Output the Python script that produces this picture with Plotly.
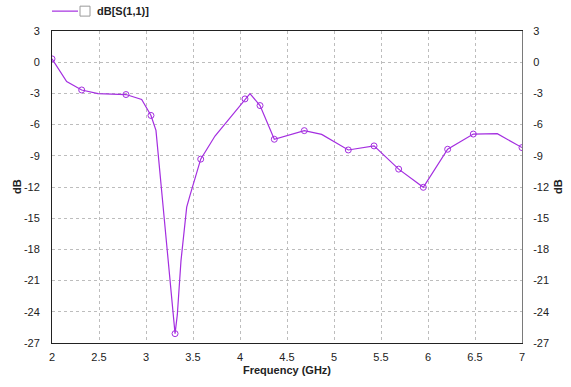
import plotly.graph_objects as go

# S11 sweep: frequency (GHz) and return loss (dB)
freq_ghz = [2.0, 2.156, 2.316, 2.49, 2.787, 2.954, 3.053, 3.106, 3.309, 3.333,
            3.372, 3.433, 3.468, 3.582, 3.734, 4.053, 4.106, 4.213, 4.365, 4.684,
            4.869, 5.152, 5.426, 5.688, 5.95, 6.209, 6.482, 6.737, 7.0]
s11_db = [0.32, -1.87, -2.67, -3.02, -3.11, -3.59, -5.12, -6.55, -26.1, -24.3,
          -19.1, -13.94, -12.8, -9.32, -7.1, -3.53, -3.02, -4.17, -7.41, -6.58,
          -6.94, -8.44, -8.05, -10.28, -12.03, -8.37, -6.91, -6.87, -8.21]
# which samples carry a marker symbol
marked = [1, 0, 1, 0, 1, 0, 1, 0, 1, 0,
          0, 0, 0, 1, 0, 1, 0, 1, 1, 1,
          0, 1, 1, 1, 1, 1, 1, 0, 1]

series_name = "dB[S(1,1)]"
x_ticks = [2, 2.5, 3, 3.5, 4, 4.5, 5, 5.5, 6, 6.5, 7]
y_ticks = [3, 0, -3, -6, -9, -12, -15, -18, -21, -24, -27]

COLOR = "#a42ee0"
FONT = "Liberation Sans, Arial, sans-serif"

fig = go.Figure()
fig.add_trace(go.Scatter(
    x=freq_ghz, y=s11_db, mode="lines",
    line=dict(color=COLOR, width=1.2),
    name=series_name, showlegend=False, hoverinfo="skip",
))
fig.add_trace(go.Scatter(
    x=[f for f, m in zip(freq_ghz, marked) if m],
    y=[v for v, m in zip(s11_db, marked) if m],
    mode="markers",
    marker=dict(symbol="circle-open", size=6, color=COLOR, line=dict(width=1, color=COLOR)),
    name=series_name, showlegend=False,
))
# invisible trace that drives the right-hand axis
fig.add_trace(go.Scatter(x=[freq_ghz[0]], y=[s11_db[0]], yaxis="y2",
                         mode="markers", marker=dict(opacity=0), showlegend=False,
                         hoverinfo="skip"))

axis_font = dict(family=FONT, size=11, color="#222222")
grid = dict(showgrid=True, gridcolor="#bdbdbd", griddash="3px,3px", gridwidth=1)

fig.update_layout(
    width=571, height=387,
    margin=dict(l=52, r=49, t=31, b=42),
    paper_bgcolor="white", plot_bgcolor="white",
    font=dict(family=FONT, size=11, color="#222222"),
    xaxis=dict(
        range=[2, 7], tickvals=x_ticks, ticktext=[f"{t:g}" for t in x_ticks],
        tickfont=axis_font, ticks="outside", ticklen=4, tickcolor="rgba(0,0,0,0)",
        showline=True, linecolor="#222222", linewidth=1, mirror=True,
        zeroline=False,
        title=dict(text="<b>Frequency (GHz)</b>", font=dict(family=FONT, size=11), standoff=4),
        **grid,
    ),
    yaxis=dict(
        range=[-27, 3], tickvals=y_ticks, ticktext=[f"{t:g}" for t in y_ticks],
        tickfont=axis_font, ticks="outside", ticklen=9, tickcolor="rgba(0,0,0,0)",
        showline=True, linecolor="#222222", linewidth=1,
        zeroline=False,
        **grid,
    ),
    yaxis2=dict(
        range=[-27, 3], tickvals=y_ticks, ticktext=[f"{t:g}" for t in y_ticks],
        tickfont=axis_font, ticks="outside", ticklen=8, tickcolor="rgba(0,0,0,0)",
        overlaying="y", side="right", showgrid=False, zeroline=False,
        showline=True, linecolor="#7a7a7a", linewidth=1,
    ),
    showlegend=False,
)

# y-axis titles on both sides
for xp in (-35 / 470, 1 + 36 / 470):
    fig.add_annotation(x=xp, y=0.5, xref="paper", yref="paper", text="<b>dB</b>",
                       textangle=-90, showarrow=False, xanchor="center", yanchor="middle",
                       font=dict(family=FONT, size=11, color="#222222"))

# legend: line sample, checkbox and series label above the plot
fig.add_shape(type="line", xref="paper", yref="paper",
              x0=0, x1=26 / 470, y0=1 + 20 / 314, y1=1 + 20 / 314,
              line=dict(color=COLOR, width=1.2))
fig.add_shape(type="rect", xref="paper", yref="paper",
              x0=28 / 470, x1=38 / 470, y0=1 + 15 / 314, y1=1 + 25 / 314,
              line=dict(color="#9a9a9a", width=1), fillcolor="white")
fig.add_annotation(x=43 / 470, y=1 + 20 / 314, xref="paper", yref="paper",
                   text=f"<b>{series_name}</b>", showarrow=False,
                   xanchor="left", yanchor="middle",
                   font=dict(family=FONT, size=11, color="#222222"))

fig.write_html("out.html")
